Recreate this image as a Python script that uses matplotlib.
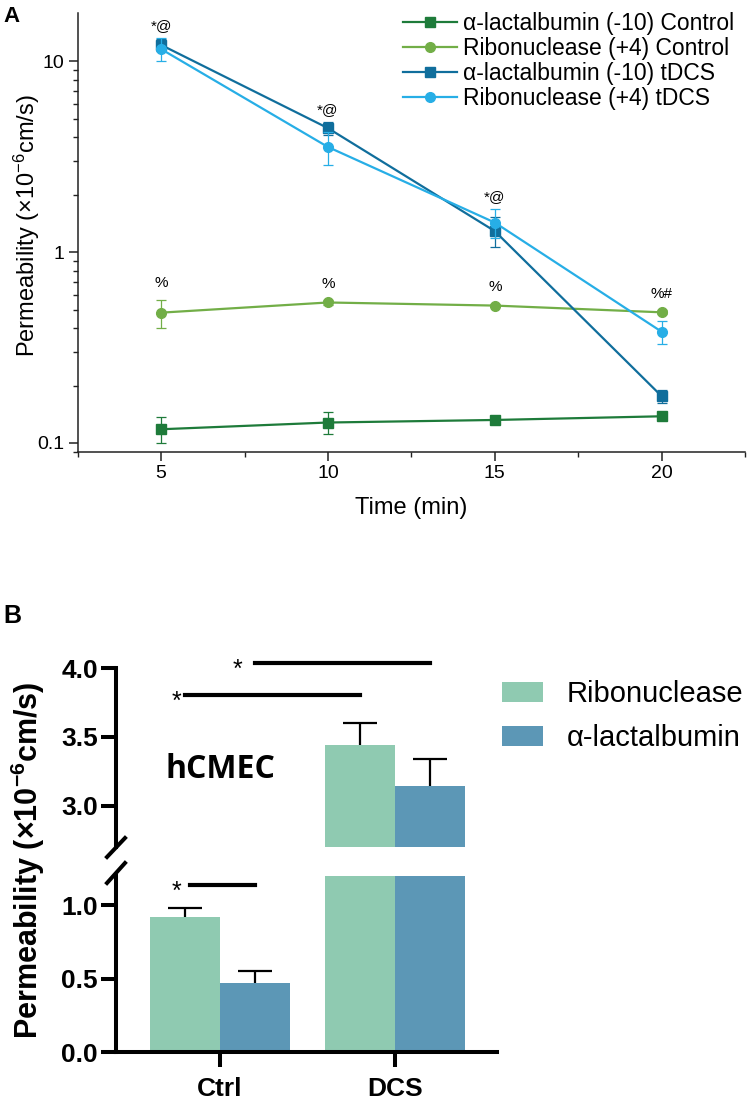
import numpy as np
import matplotlib
matplotlib.use('Agg')
import matplotlib.pyplot as plt
from matplotlib.lines import Line2D
from matplotlib.ticker import FixedLocator, NullFormatter

plt.rcParams['font.family'] = ['Liberation Sans', 'DejaVu Sans']
plt.rcParams['mathtext.default'] = 'regular'

# ---- panel A data (permeability, x10^-6 cm/s) ----
times = [5, 10, 15, 20]
alac_ctrl = [0.118, 0.128, 0.132, 0.138]
alac_ctrl_err = [0.018, 0.017, 0.004, 0.004]
ribo_ctrl = [0.482, 0.545, 0.525, 0.484]
ribo_ctrl_err = [0.08, 0.015, 0.012, 0.012]
alac_tdcs = [12.2, 4.47, 1.29, 0.176]
alac_tdcs_err = [0.9, 0.35, 0.23, 0.014]
ribo_tdcs = [11.6, 3.56, 1.43, 0.383]
ribo_tdcs_err = [1.6, 0.7, 0.25, 0.053]
series_labels = ['α-lactalbumin (-10) Control', 'Ribonuclease (+4) Control',
                 'α-lactalbumin (-10) tDCS', 'Ribonuclease (+4) tDCS']
tdcs_marks = ['*@', '*@', '*@', '']
ctrl_marks = ['%', '%', '%', '%#']

# ---- panel B data ----
groups = ['Ctrl', 'DCS']
ribo_bar = [0.92, 3.44]
ribo_bar_err = [0.06, 0.16]
alac_bar = [0.47, 3.14]
alac_bar_err = [0.08, 0.20]
bar_labels = ['Ribonuclease', 'α-lactalbumin']

dk_green = '#1E7B3A'
lt_green = '#72AE47'
dk_blue = '#106E9C'
lt_blue = '#27AEE6'
ribo_c = '#8FCAB1'
alac_c = '#5C97B6'

W, H = 755, 1102


def box(l, t, r, b):
    return [l / W, 1 - b / H, (r - l) / W, (b - t) / H]


fig = plt.figure(figsize=(W / 100, H / 100), dpi=100)

# ================= panel A =================
axA = fig.add_axes(box(77.7, 12.7, 745, 451.7))
series = [
    (alac_ctrl, alac_ctrl_err, dk_green, 's'),
    (ribo_ctrl, ribo_ctrl_err, lt_green, 'o'),
    (alac_tdcs, alac_tdcs_err, dk_blue, 's'),
    (ribo_tdcs, ribo_tdcs_err, lt_blue, 'o'),
]
for (y, e, c, m), lab in zip(series, series_labels):
    axA.errorbar(times, y, yerr=e, fmt='none', ecolor=c, elinewidth=0.9,
                 capsize=3.5, capthick=0.9)
    axA.plot(times, y, color=c, marker=m, ms=7, lw=1.6, label=lab)

for i, t in enumerate(times):
    if tdcs_marks[i]:
        top = max(alac_tdcs[i] + alac_tdcs_err[i], ribo_tdcs[i] + ribo_tdcs_err[i])
        axA.text(t, top * 1.16, tdcs_marks[i], ha='center', va='center', fontsize=11)
    top = ribo_ctrl[i] + ribo_ctrl_err[i]
    axA.text(t, top * 1.22, ctrl_marks[i], ha='center', va='center', fontsize=11)

axA.set_yscale('log')
axA.set_ylim(0.09, 18)
axA.set_xlim(2.5, 22.5)
axA.yaxis.set_major_locator(FixedLocator([0.1, 1, 10]))
axA.set_yticklabels(['0.1', '1', '10'])
axA.xaxis.set_major_locator(FixedLocator(times))
axA.xaxis.set_minor_locator(FixedLocator([2.5, 7.5, 12.5, 17.5, 22.5]))
axA.xaxis.set_minor_formatter(NullFormatter())
axA.yaxis.set_minor_formatter(NullFormatter())
for s in ['top', 'right']:
    axA.spines[s].set_visible(False)
for s in ['left', 'bottom']:
    axA.spines[s].set_linewidth(1.1)
    axA.spines[s].set_color('#222222')
axA.tick_params(which='major', length=6.5, width=1.1, labelsize=14, pad=3, color='#222222')
axA.tick_params(which='minor', length=3.8, width=1.0, color='#222222')
axA.legend(loc='upper left', bbox_to_anchor=(403 / W, 1 - 12 / H),
           bbox_transform=fig.transFigure, frameon=False, fontsize=16.5,
           handlelength=2.36, handletextpad=0.26, labelspacing=0.09,
           borderpad=0, borderaxespad=0)

fig.text(27 / W, 1 - 226 / H, 'Permeability (×10$^{-6}$cm/s)', rotation=90,
         ha='center', va='center', fontsize=17)
fig.text(411 / W, 1 - 508 / H, 'Time (min)', ha='center', va='center', fontsize=17)
fig.text(3 / W, 1 - 16 / H, 'A', ha='left', va='center', fontsize=16, fontweight='bold')

# ================= panel B =================
axU = fig.add_axes(box(116, 668.3, 497, 846.7))
axL = fig.add_axes(box(116, 876, 497, 1052.3))
x = np.arange(len(groups))
w = 0.4
cap = 0.097
handles = []
for ax in (axU, axL):
    b1 = ax.bar(x - w / 2, ribo_bar, w, color=ribo_c, zorder=2)
    b2 = ax.bar(x + w / 2, alac_bar, w, color=alac_c, zorder=2)
    # upward-only error bars
    for xs, ys, es in [(x - w / 2, ribo_bar, ribo_bar_err), (x + w / 2, alac_bar, alac_bar_err)]:
        ys = np.asarray(ys)
        es = np.asarray(es)
        ax.vlines(xs, ys, ys + es, color='black', lw=1.6, zorder=3)
        ax.hlines(ys + es, xs - cap, xs + cap, color='black', lw=1.6, zorder=3)
    ax.set_xlim(-0.594, 1.583)
    for s in ['top', 'right']:
        ax.spines[s].set_visible(False)
    for s in ['left', 'bottom']:
        ax.spines[s].set_linewidth(2.9)
    ax.tick_params(length=11, width=2.9, labelsize=19, pad=2)
    handles = [b1, b2]

axU.set_ylim(2.7, 4.0)
axU.set_yticks([3.0, 3.5, 4.0])
axU.set_yticklabels(['3.0', '3.5', '4.0'], fontweight='bold')
axU.spines['bottom'].set_visible(False)
axU.set_xticks([])

axL.set_ylim(0, 1.2)
axL.set_yticks([0.0, 0.5, 1.0])
axL.set_yticklabels(['0.0', '0.5', '1.0'], fontweight='bold')
axL.set_xticks(x)
axL.set_xticklabels(groups, fontweight='bold')
axL.tick_params(axis='x', pad=7)

# axis break marks
for (x0, y0, x1, y1) in [(107, 857, 125, 838), (107, 883, 125, 863)]:
    fig.add_artist(Line2D([x0 / W, x1 / W], [1 - y0 / H, 1 - y1 / H],
                          transform=fig.transFigure, color='black', lw=2.9))

# significance markers
axU.plot([0.2, 1.2], [4.04, 4.04], color='black', lw=3, clip_on=False)
axU.text(0.1, 3.99, '*', ha='center', va='center', fontsize=18, clip_on=False)
axU.plot([-0.2, 0.8], [3.805, 3.805], color='black', lw=3, clip_on=False)
axU.text(-0.25, 3.755, '*', ha='center', va='center', fontsize=18)
axL.plot([-0.17, 0.2], [1.136, 1.136], color='black', lw=3, clip_on=False)
axL.text(-0.246, 1.09, '*', ha='center', va='center', fontsize=18, clip_on=False)

axU.text(0, 3.266, 'hCMEC', ha='center', va='center', fontsize=23,
         fontweight='bold', family=['Open Sans', 'DejaVu Sans'])

fig.legend(handles, bar_labels, loc='upper left', bbox_to_anchor=(502 / W, 1 - 680 / H),
           frameon=False, fontsize=21, handlelength=1.4, handleheight=0.685,
           handletextpad=0.82, labelspacing=0.55, borderpad=0, borderaxespad=0)

fig.text(28 / W, 1 - 860 / H, 'Permeability (×10$^{-6}$cm/s)', rotation=90,
         ha='center', va='center', fontsize=22, fontweight='bold')
fig.text(3 / W, 1 - 616 / H, 'B', ha='left', va='center', fontsize=18, fontweight='bold')

fig.savefig('out.png', dpi=100, facecolor='white')
